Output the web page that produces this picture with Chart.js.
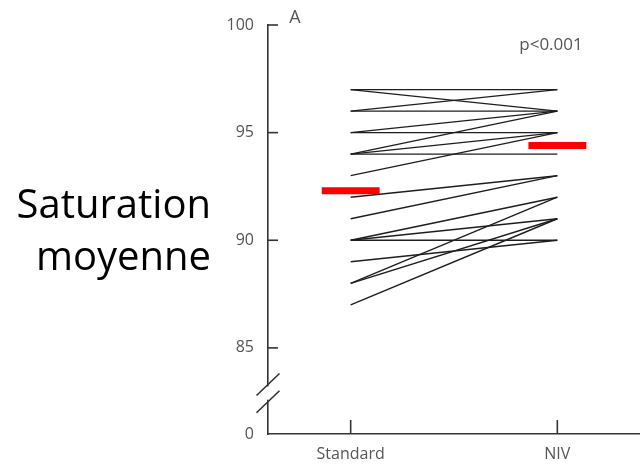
<!DOCTYPE html>
<html>
<head>
<meta charset="utf-8">
<script src="https://cdn.jsdelivr.net/npm/chart.js@4.4.1/dist/chart.umd.min.js"></script>
<style>
  html, body { margin: 0; padding: 0; background: #fff; }
  #wrap { width: 640px; height: 465px; position: relative; }
</style>
</head>
<body>
<div id="wrap"><canvas id="satChart"></canvas></div>
<script>
// paired mean saturation, one entry per patient
const groups = ["Standard", "NIV"];
const standardSat = [97, 97, 96, 96, 95, 95, 94, 94, 94, 93, 92, 91, 90, 90, 90, 89, 88, 88, 87];
const nivSat      = [97, 96, 97, 96, 96, 95, 96, 95, 94, 95, 93, 93, 92, 91, 90, 90, 91, 92, 91];
const meanSat = [92.3, 94.4];
// the axis is broken: the lowest tick stands for 0
const yTicks = [81, 85, 90, 95, 100];
const yTickLabels = ["0", "85", "90", "95", "100"];

const tickFont = { family: "Open Sans", size: 16 };
const inkColor = "#333";

const meanSets = meanSat.map((m, j) => ({
  data: [{ x: j + 1 - 0.14, y: m }, { x: j + 1 + 0.14, y: m }],
  borderColor: "#ff0000",
  borderWidth: 7,
  borderCapStyle: "butt",
  pointRadius: 0
}));

const pairSets = standardSat.map((s, i) => ({
  data: [{ x: 1, y: s }, { x: 2, y: nivSat[i] }],
  borderColor: "#1e1e1e",
  borderWidth: 1.4,
  pointRadius: 0
}));

const decorations = {
  id: "decorations",
  afterDraw: chart => {
    const ctx = chart.ctx;
    const x = chart.scales.x;
    const y = chart.scales.y;
    const left = chart.chartArea.left;
    const bottom = chart.chartArea.bottom;
    ctx.save();
    ctx.strokeStyle = inkColor;
    ctx.lineWidth = 1.6;
    // inward tick marks
    yTicks.slice(1).forEach(v => {
      const py = y.getPixelForValue(v);
      ctx.beginPath();
      ctx.moveTo(left, py);
      ctx.lineTo(left + 10, py);
      ctx.stroke();
    });
    [1, 2].forEach(v => {
      const px = x.getPixelForValue(v);
      ctx.beginPath();
      ctx.moveTo(px, bottom);
      ctx.lineTo(px, bottom - 14);
      ctx.stroke();
    });
    // axis break
    const b1 = y.getPixelForValue(83.3);
    const b2 = y.getPixelForValue(82.5);
    ctx.fillStyle = "#fff";
    ctx.fillRect(left - 4, b1 + 2, 8, b2 - b1 - 4);
    [b1, b2].forEach(py => {
      ctx.beginPath();
      ctx.moveTo(left - 11.5, py + 11);
      ctx.lineTo(left + 11.5, py - 11);
      ctx.stroke();
    });
    // labels
    ctx.fillStyle = "#555";
    ctx.font = "18px 'Open Sans'";
    ctx.textAlign = "center";
    ctx.textBaseline = "alphabetic";
    ctx.fillText("A", 295, 23);
    ctx.font = "17px 'Open Sans'";
    ctx.fillText("p<0.001", 551, 50);
    ctx.fillStyle = "#000";
    ctx.font = "40px 'Open Sans'";
    ctx.textAlign = "right";
    ctx.fillText("Saturation", 211, 218);
    ctx.fillText("moyenne", 211, 270);
    ctx.restore();
  }
};

new Chart(document.getElementById("satChart"), {
  type: "line",
  data: { datasets: meanSets.concat(pairSets) },
  plugins: [decorations],
  options: {
    responsive: true,
    maintainAspectRatio: false,
    animation: false,
    layout: { padding: { top: 25, right: 0, bottom: 0, left: 0 } },
    plugins: {
      legend: { display: false },
      tooltip: { enabled: false }
    },
    scales: {
      x: {
        type: "linear",
        min: 0.6,
        max: 2.4,
        grid: { display: false },
        border: { display: true, color: inkColor, width: 1.6 },
        afterBuildTicks: s => { s.ticks = [{ value: 1 }, { value: 2 }]; },
        afterFit: s => { s.height = 31; },
        ticks: {
          callback: (v, i) => groups[i],
          font: tickFont,
          color: "#555",
          padding: 3,
          maxRotation: 0
        }
      },
      y: {
        type: "linear",
        min: 81,
        max: 100,
        grid: { display: false },
        border: { display: true, color: inkColor, width: 1.6 },
        afterBuildTicks: s => { s.ticks = yTicks.map(v => ({ value: v })); },
        afterFit: s => { s.width = 268; },
        ticks: {
          callback: (v, i) => yTickLabels[i],
          font: tickFont,
          color: "#555",
          padding: 6
        }
      }
    }
  }
});
</script>
</body>
</html>
